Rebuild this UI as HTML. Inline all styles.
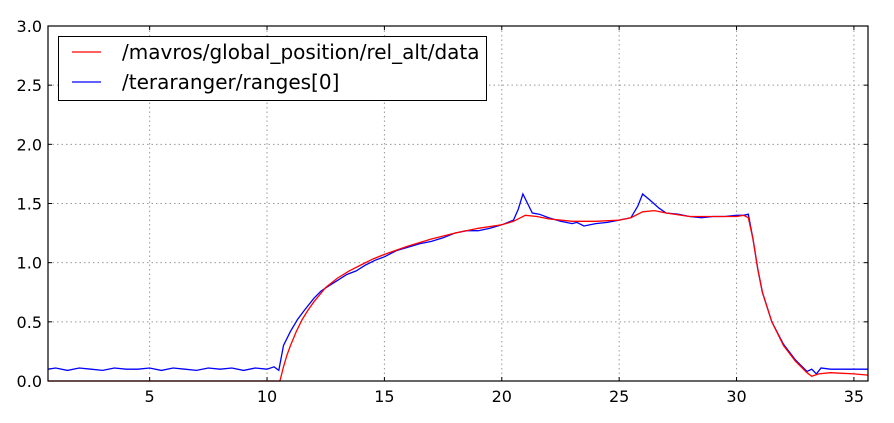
<!DOCTYPE html>
<html><head><meta charset="utf-8"><style>
body{margin:0;background:#fff;}
svg{display:block;font-family:"DejaVu Sans","Liberation Sans",sans-serif;}
</style></head><body>
<svg id="chart" width="894" height="423"></svg>
<script>
const xTicks=[5,10,15,20,25,30,35];
const yTicks=[0.0,0.5,1.0,1.5,2.0,2.5,3.0];
const yTickLabels=["0.0","0.5","1.0","1.5","2.0","2.5","3.0"];
const relAltX=[0.67,10.55,10.7,10.85,11,11.25,11.5,11.75,12,12.5,13,13.5,14,14.5,15,16,17,18,19,20,20.5,20.8,21,21.5,22,23,24,25,25.5,25.8,26,26.5,27,28,29,30,30.3,30.5,30.7,30.9,31.1,31.5,32,32.5,33,33.2,33.5,34,35,35.6];
const relAltY=[0,0,0.12,0.22,0.3,0.42,0.52,0.6,0.67,0.79,0.87,0.93,0.98,1.03,1.07,1.14,1.2,1.25,1.29,1.32,1.35,1.38,1.4,1.39,1.37,1.35,1.35,1.36,1.38,1.41,1.43,1.44,1.42,1.39,1.39,1.39,1.4,1.38,1.2,0.95,0.75,0.5,0.3,0.17,0.07,0.04,0.06,0.07,0.06,0.05];
const rangeX=[0.67,1,1.5,2,2.5,3,3.5,4,4.5,5,5.5,6,6.5,7,7.5,8,8.5,9,9.5,10,10.3,10.5,10.7,11,11.3,11.6,12,12.3,12.6,13,13.4,13.8,14.2,14.6,15,15.5,16,16.5,17,17.5,18,18.5,19,19.5,20,20.5,20.7,20.9,21.1,21.3,21.6,22,22.5,23,23.2,23.5,24,24.5,25,25.5,25.8,26,26.3,26.7,27,27.5,28,28.5,29,29.5,30,30.3,30.5,30.7,30.9,31.1,31.5,32,32.5,33,33.2,33.4,33.6,34,34.5,35,35.6];
const rangeY=[0.1,0.11,0.09,0.11,0.1,0.09,0.11,0.1,0.1,0.11,0.09,0.11,0.1,0.09,0.11,0.1,0.11,0.09,0.11,0.1,0.12,0.09,0.3,0.42,0.52,0.6,0.7,0.76,0.8,0.85,0.9,0.93,0.98,1.02,1.05,1.1,1.13,1.16,1.18,1.21,1.25,1.27,1.27,1.29,1.32,1.36,1.45,1.58,1.5,1.42,1.41,1.38,1.35,1.33,1.34,1.31,1.33,1.34,1.36,1.38,1.48,1.58,1.53,1.46,1.42,1.41,1.39,1.38,1.39,1.39,1.4,1.4,1.41,1.2,0.95,0.75,0.5,0.31,0.18,0.08,0.1,0.06,0.11,0.1,0.1,0.1,0.1];

const L=48,R=868,T=26,B=381,X0=0.67,X1=35.6,Y0=0,Y1=3;
const sx=v=>L+(v-X0)/(X1-X0)*(R-L);
const sy=v=>B-(v-Y0)/(Y1-Y0)*(B-T);
const svg=document.getElementById('chart');
const NS='http://www.w3.org/2000/svg';
function mk(tag,attrs,parent){const e=document.createElementNS(NS,tag);for(const k in attrs)e.setAttribute(k,attrs[k]);(parent||svg).appendChild(e);return e;}

xTicks.forEach((t,i)=>{
  const g=mk('line',{x1:sx(t),x2:sx(t),y1:T,y2:B,stroke:'#999','stroke-dasharray':'1.5,3','stroke-width':1});
  
  
  mk('line',{x1:sx(t),x2:sx(t),y1:B,y2:B-4,stroke:'#000'});
  mk('line',{x1:sx(t),x2:sx(t),y1:T,y2:T+4,stroke:'#000'});
  const tx=mk('text',{x:sx(t),y:B+21,'text-anchor':'middle','font-size':16});
  tx.textContent=String(t);
  
  
});
yTicks.forEach((t,i)=>{
  const g=mk('line',{x1:L,x2:R,y1:sy(t),y2:sy(t),stroke:'#999','stroke-dasharray':'1.5,3','stroke-width':1});
  
  
  mk('line',{x1:L,x2:L+4,y1:sy(t),y2:sy(t),stroke:'#000'});
  mk('line',{x1:R,x2:R-4,y1:sy(t),y2:sy(t),stroke:'#000'});
  const tx=mk('text',{x:L-6,y:sy(t)+6,'text-anchor':'end','font-size':16});
  tx.textContent=yTickLabels[i];
  
  
});
function line(xs,ys,color,name){
  const d=xs.map((x,i)=>(i?'L':'M')+sx(x).toFixed(1)+','+sy(ys[i]).toFixed(1)).join('');
  const p=mk('path',{d:d,fill:'none',stroke:color,'stroke-width':1.3});
  
  
}
line(rangeX,rangeY,'#0000ff','teraranger-line');
line(relAltX,relAltY,'#ff0000','rel-alt-line');
const fr=mk('rect',{x:L,y:T,width:R-L,height:B-T,fill:'none',stroke:'#000','stroke-width':1.2});


const lg=mk('g',{});


mk('rect',{x:58.5,y:36.5,width:428,height:64,fill:'#fff',stroke:'#000','stroke-width':1},lg);
mk('line',{x1:72,x2:101,y1:52,y2:52,stroke:'#ff0000','stroke-width':1.3},lg);
mk('line',{x1:72,x2:101,y1:82,y2:82,stroke:'#0000ff','stroke-width':1.3},lg);
const t1=mk('text',{x:122,y:59,'font-size':20},lg);t1.textContent='/mavros/global_position/rel_alt/data';


const t2=mk('text',{x:122,y:89,'font-size':20},lg);t2.textContent='/teraranger/ranges[0]';


</script>
</body></html>
